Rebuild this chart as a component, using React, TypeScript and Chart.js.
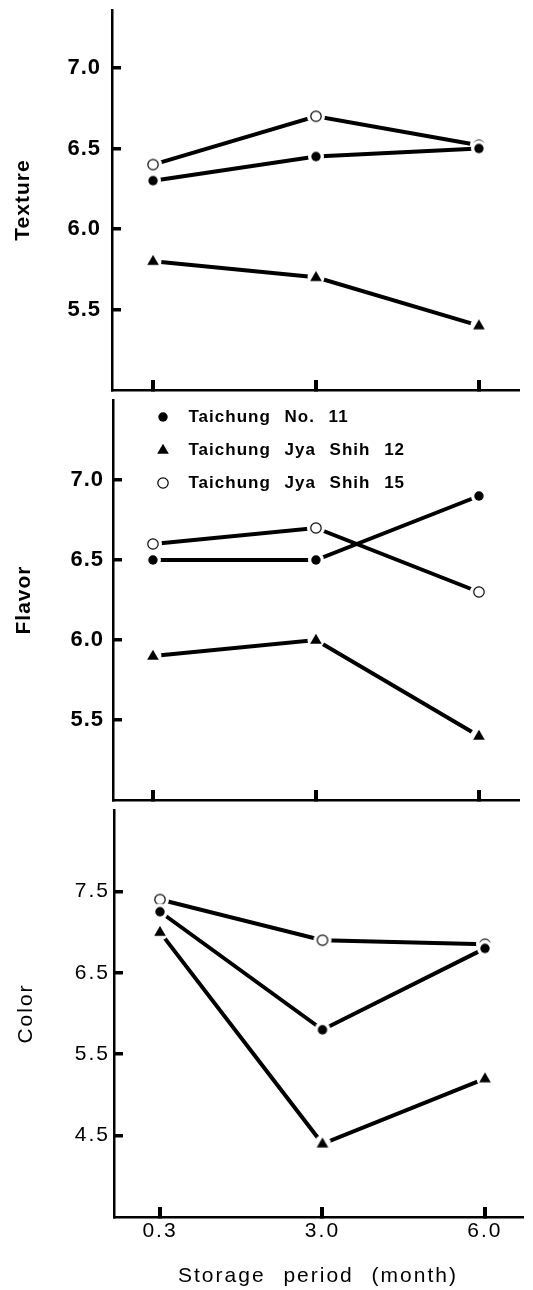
import React, { useEffect, useRef } from 'react';
import { Chart, registerables } from 'chart.js';

Chart.register(...registerables);

const FONT = "'Liberation Sans', Arial, Helvetica, sans-serif";
Chart.defaults.font.family = FONT;
Chart.defaults.color = '#000';

// ---- data ----
const X_LABELS = ['0.3', '3.0', '6.0'];
const X_TITLE = 'Storage period (month)';
const SERIES_NAMES = ['Taichung No. 11', 'Taichung Jya Shih 12', 'Taichung Jya Shih 15'];

const TEXTURE_NO11 = [6.3, 6.45, 6.5];
const TEXTURE_JS12 = [5.8, 5.7, 5.4];
const TEXTURE_JS15 = [6.4, 6.7, 6.52];

const FLAVOR_NO11 = [6.5, 6.5, 6.9];
const FLAVOR_JS12 = [5.9, 6.0, 5.4];
const FLAVOR_JS15 = [6.6, 6.7, 6.3];

const COLOR_NO11 = [7.25, 5.8, 6.8];
const COLOR_JS12 = [7.0, 4.4, 5.2];
const COLOR_JS15 = [7.4, 6.9, 6.85];

const TEXTURE_TICKS = [5.5, 6.0, 6.5, 7.0];
const FLAVOR_TICKS = [5.5, 6.0, 6.5, 7.0];
const COLOR_TICKS = [4.5, 5.5, 6.5, 7.5];

// ---- layout ----
const W = 533;

type Panel = {
  title: string;
  series: number[][];
  yTicks: number[];
  yMin: number;
  yMax: number;
  top: number;
  height: number;
  padTop: number;
  axisLeft: number;
  axisRight: number;
  xHeight: number;
  xMin: number;
  xMax: number;
  tickWeight: string;
  tickSize: number;
  tickPad: number;
  titleWeight: string;
  titleSize: number;
  titlePad: number;
  bottomAxis: boolean;
  legend: boolean;
  spacing: number;
  wordSpacing: number;
};

const PANELS: Panel[] = [
  {
    title: 'Texture', series: [TEXTURE_NO11, TEXTURE_JS12, TEXTURE_JS15], yTicks: TEXTURE_TICKS,
    yMin: 5.0, yMax: 7.36, top: 0, height: 400, padTop: 5, axisLeft: 112, axisRight: 518, xHeight: 4,
    xMin: -0.252, xMax: 2.24, tickWeight: 'bold', tickSize: 22, tickPad: 20, titleWeight: 'bold', titleSize: 21,
    titlePad: 10.9, bottomAxis: false, legend: false, spacing: 1, wordSpacing: 0,
  },
  {
    title: 'Flavor', series: [FLAVOR_NO11, FLAVOR_JS12, FLAVOR_JS15], yTicks: FLAVOR_TICKS,
    yMin: 5.0, yMax: 7.5, top: 390, height: 420, padTop: 6, axisLeft: 113, axisRight: 518, xHeight: 3,
    xMin: -0.245, xMax: 2.24, tickWeight: 'bold', tickSize: 22, tickPad: 18, titleWeight: 'bold', titleSize: 21,
    titlePad: 11.9, bottomAxis: false, legend: true, spacing: 1, wordSpacing: 8,
  },
  {
    title: 'Color', series: [COLOR_NO11, COLOR_JS12, COLOR_JS15], yTicks: COLOR_TICKS,
    yMin: 3.5, yMax: 8.5, top: 800, height: 490, padTop: 7, axisLeft: 114, axisRight: 522, xHeight: 73,
    xMin: -0.283, xMax: 2.228, tickWeight: 'normal', tickSize: 21, tickPad: 13, titleWeight: 'normal', titleSize: 21,
    titlePad: 13.4, bottomAxis: true, legend: false, spacing: 2, wordSpacing: 10,
  },
];

function makeMarker(kind: 'dot' | 'tri' | 'ring'): HTMLCanvasElement {
  const c = document.createElement('canvas');
  c.width = 22;
  c.height = 22;
  const g = c.getContext('2d')!;
  const cx = 11;
  const cy = 11;
  g.fillStyle = '#fff';
  g.beginPath();
  g.arc(cx, cy, kind === 'ring' ? 9 : kind === 'tri' ? 8.5 : 8, 0, Math.PI * 2);
  g.fill();
  g.fillStyle = '#000';
  g.strokeStyle = '#000';
  if (kind === 'dot') {
    g.beginPath();
    g.arc(cx, cy, 4.7, 0, Math.PI * 2);
    g.fill();
  } else if (kind === 'tri') {
    g.beginPath();
    g.moveTo(cx, cy - 6.2);
    g.lineTo(cx + 5.8, cy + 3.8);
    g.lineTo(cx - 5.8, cy + 3.8);
    g.closePath();
    g.fill();
  } else {
    g.lineWidth = 1.2;
    g.beginPath();
    g.arc(cx, cy, 5.2, 0, Math.PI * 2);
    g.stroke();
  }
  return c;
}

function zeroPad(s: any) {
  s.paddingTop = 0;
  s.paddingBottom = 0;
  s.paddingLeft = 0;
  s.paddingRight = 0;
}

function PanelChart({ p }: { p: Panel }) {
  const ref = useRef<HTMLCanvasElement>(null);
  useEffect(() => {
    const markers = [makeMarker('dot'), makeMarker('tri'), makeMarker('ring')];
    const chart = new Chart(ref.current!, {
      type: 'line',
      data: {
        datasets: p.series.map((vals, si) => ({
          label: SERIES_NAMES[si],
          data: vals.map((v, i) => ({ x: i, y: v })),
          borderColor: '#000',
          backgroundColor: '#000',
          borderWidth: 4,
          pointStyle: markers[si] as any,
          pointRadius: 6,
          pointHoverRadius: 6,
          tension: 0,
          fill: false,
        })),
      },
      options: {
        responsive: false,
        animation: false,
        events: [],
        layout: { padding: { left: 0, top: p.padTop, right: W - p.axisRight, bottom: 0 } },
        plugins: {
          tooltip: { enabled: false },
          legend: p.legend
            ? {
                display: true,
                position: 'chartArea' as any,
                align: 'start',
                fullSize: false,
                labels: {
                  usePointStyle: true,
                  pointStyleWidth: 34,
                  boxHeight: 10,
                  padding: 16,
                  color: '#000',
                  font: { family: FONT, size: 17, weight: 'bold' as any },
                },
              }
            : { display: false },
        },
        scales: {
          x: {
            type: 'linear',
            position: 'bottom',
            min: p.xMin,
            max: p.xMax,
            afterBuildTicks: (s: any) => {
              s.ticks = X_LABELS.map((_, i) => ({ value: i }));
            },
            afterFit: (s: any) => {
              s.height = p.xHeight;
              zeroPad(s);
            },
            grid: { drawOnChartArea: false, drawTicks: true, tickLength: -10, lineWidth: 4, color: '#000' },
            border: { display: true, color: '#000', width: 2.5 },
            ticks: {
              display: p.bottomAxis,
              autoSkip: false,
              maxRotation: 0,
              padding: 11.4,
              color: '#000',
              font: { family: FONT, size: 21, weight: 'normal' as any },
              callback: (v: any) => X_LABELS[v as number] ?? '',
            },
            title: {
              display: p.bottomAxis,
              text: X_TITLE,
              color: '#000',
              font: { family: FONT, size: 21, weight: 'normal' as any },
              padding: { top: 0, bottom: 1.4 },
            },
          },
          y: {
            type: 'linear',
            position: 'left',
            min: p.yMin,
            max: p.yMax,
            afterBuildTicks: (s: any) => {
              s.ticks = p.yTicks.map((v) => ({ value: v }));
            },
            afterFit: (s: any) => {
              s.width = p.axisLeft;
              zeroPad(s);
            },
            grid: { drawOnChartArea: false, drawTicks: true, tickLength: -9, lineWidth: 3.5, color: '#000' },
            border: { display: true, color: '#000', width: 2.5 },
            ticks: {
              autoSkip: false,
              padding: p.tickPad,
              color: '#000',
              font: { family: FONT, size: p.tickSize, weight: p.tickWeight as any },
              callback: (v: any) => Number(v).toFixed(1),
            },
            title: {
              display: true,
              text: p.title,
              color: '#000',
              font: { family: FONT, size: p.titleSize, weight: p.titleWeight as any },
              padding: { top: p.titlePad, bottom: 0 },
            },
          },
        },
      } as any,
      plugins: [
        {
          id: 'letterSpacing',
          beforeDraw(c: any) {
            c.ctx.letterSpacing = p.spacing + 'px';
            c.ctx.wordSpacing = p.wordSpacing + 'px';
          },
        },
        {
          id: 'legendShift',
          afterLayout(c: any) {
            if (p.legend && c.legend) {
              c.legend.left += 17;
              c.legend.top += 2.5;
            }
          },
        },
      ],
    });
    return () => chart.destroy();
  }, []);
  return (
    <canvas
      ref={ref}
      width={W}
      height={p.height}
      style={{ position: 'absolute', left: 0, top: p.top, display: 'block' }}
    />
  );
}

export default function App() {
  return (
    <div style={{ position: 'absolute', left: 0, top: 0, width: W, height: 1290, background: '#fff' }}>
      {PANELS.map((p) => (
        <PanelChart key={p.title} p={p} />
      ))}
    </div>
  );
}
